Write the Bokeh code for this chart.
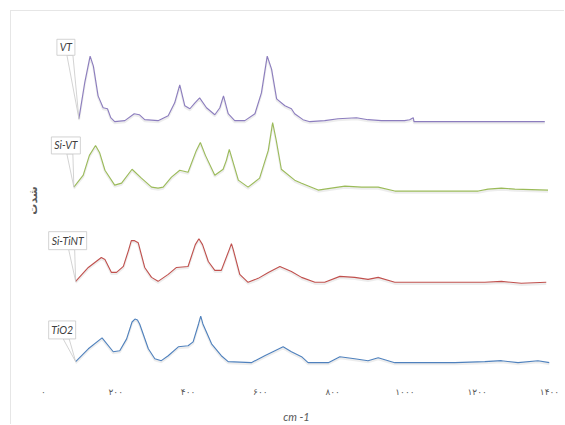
import numpy as np
from bokeh.plotting import figure
from bokeh.models import Range1d, FixedTicker
from bokeh.core.properties import value
from bokeh.embed import file_html
from bokeh.resources import INLINE

# ---- data (arbitrary stacked intensity units) ----
vt_x = [98, 114, 129, 138, 151, 165, 177, 186, 197, 225, 251, 265, 280, 317, 345, 363, 377, 391,
        405, 419, 432, 451, 474, 488, 498, 511, 529, 557, 585, 603, 619, 631, 645, 668, 686, 695,
        718, 737, 778, 815, 866, 898, 935, 999, 1013, 1023, 1025, 1387]
vt_y = [265, 301, 328, 318, 288, 276, 275, 266, 262, 263, 270, 269, 264, 263, 268, 281, 299, 278,
        275, 281, 286, 276, 269, 276, 288, 270, 263, 263, 270, 291, 328, 315, 285, 278, 275, 270,
        264, 262, 263, 265, 266, 264, 263, 263, 264, 266, 262, 262]

sivt_x = [84, 110, 127, 144, 155, 170, 197, 216, 245, 271, 299, 317, 331, 354, 377, 400, 423, 434,
          448, 474, 497, 506, 514, 523, 539, 566, 598, 622, 634, 644, 658, 695, 714, 760, 778, 834,
          880, 926, 972, 1046, 1138, 1203, 1230, 1267, 1304, 1396]
sivt_y = [196, 208, 228, 238, 231, 213, 198, 200, 214, 205, 196, 195, 196, 206, 213, 211, 233, 241,
          228, 208, 214, 223, 234, 223, 203, 196, 205, 233, 261, 243, 214, 203, 200, 193, 194, 197,
          196, 196, 192, 192, 192, 192, 194, 195, 194, 193]

sitint_x = [89, 124, 142, 160, 170, 188, 202, 221, 235, 243, 252, 262, 280, 299, 317, 345, 368, 400,
            420, 430, 440, 456, 474, 492, 514, 520, 525, 543, 566, 594, 622, 654, 686, 714, 751,
            778, 820, 861, 898, 926, 972, 1046, 1138, 1221, 1267, 1322, 1391]
sitint_y = [101, 115, 120, 125, 123, 110, 110, 116, 132, 142, 142, 140, 115, 105, 101, 108, 115, 116,
            138, 144, 138, 121, 112, 112, 133, 139, 133, 108, 100, 104, 110, 116, 111, 105, 100,
            100, 106, 105, 103, 105, 100, 100, 100, 100, 101, 99, 100]

tio2_x = [89, 124, 162, 193, 211, 230, 245, 253, 260, 266, 290, 308, 326, 345, 373, 400, 414, 429,
          435, 441, 465, 492, 511, 575, 612, 663, 686, 714, 732, 788, 820, 861, 898, 926, 972,
          1046, 1138, 1221, 1267, 1313, 1368, 1400]
tio2_y = [20, 33, 44, 30, 31, 43, 60, 63, 62, 58, 33, 23, 21, 26, 35, 36, 40, 58,
          66, 58, 38, 26, 20, 19, 26, 35, 30, 25, 19, 19, 25, 23, 21, 24, 19,
          19, 19, 20, 21, 19, 21, 19]

series_names = ["VT", "Si-VT", "Si-TiNT", "TiO2"]
series_x = [vt_x, sivt_x, sitint_x, tio2_x]
series_y = [vt_y, sivt_y, sitint_y, tio2_y]
series_colors = ["#8C7DBE", "#9BBB59", "#C0504D", "#4F81BD"]

x_ticks = [0, 200, 400, 600, 800, 1000, 1200, 1400]
x_tick_labels = ["۰", "۲۰۰", "۴۰۰", "۶۰۰", "۸۰۰", "۱۰۰۰", "۱۲۰۰", "۱۴۰۰"]
x_title = "cm -1"
y_title = "شدت"

# callout placement (screen pixels relative to first point) and box size
callout_dx = [-13, -8, -8, -13.5]
callout_dy = [72, 42, 41, 32]
callout_w = [18, 29, 38, 27]
callout_h = [16, 17, 18, 18]

# ---- figure ----
W, H = 554, 414
BL, BR, BT, BB = 32, 16, 8, 41
p = figure(width=W, height=H, output_backend="svg", toolbar_location=None,
           x_range=Range1d(0, 1400), y_range=Range1d(0, 365),
           min_border_left=BL, min_border_right=BR, min_border_top=BT, min_border_bottom=BB)
p.styles = {"margin-left": "10px", "margin-top": "10px",
            "border-top": "1px solid #e6e6e6", "border-left": "1px solid #e6e6e6"}
p.grid.visible = False
p.outline_line_color = None
p.background_fill_color = "white"

xa = p.xaxis[0]
xa.ticker = FixedTicker(ticks=x_ticks)
xa.major_label_overrides = {t: l for t, l in zip(x_ticks, x_tick_labels)}
xa.axis_line_color = None
xa.major_tick_line_color = None
xa.minor_tick_line_color = None
xa.major_tick_out = 0
xa.major_tick_in = 0
xa.major_label_standoff = 5
xa.major_label_text_font = "DejaVu Sans"
xa.major_label_text_font_size = "9px"
xa.major_label_text_color = "#595959"
xa.axis_label = x_title
xa.axis_label_text_font = "Lato"
xa.axis_label_text_font_style = "italic"
xa.axis_label_text_font_size = "11px"
xa.axis_label_text_color = "#595959"
xa.axis_label_standoff = 10

ya = p.yaxis[0]
ya.ticker = FixedTicker(ticks=[])
ya.axis_line_color = None
ya.major_tick_line_color = None
ya.minor_tick_line_color = None
ya.major_tick_out = 0
ya.major_tick_in = 0
ya.major_label_standoff = 0
ya.axis_label = y_title
ya.axis_label_text_font = "DejaVu Sans"
ya.axis_label_text_font_style = "bold"
ya.axis_label_text_font_size = "11px"
ya.axis_label_text_color = "#595959"
ya.axis_label_standoff = 4

frame_w = W - BL - BR
xpp = 1400 / frame_w   # data units per screen pixel (x)
ypp = 1.0              # data units per screen pixel (y)

for name, xs, ys, col, dx, dy, bw, bh in zip(series_names, series_x, series_y, series_colors,
                                             callout_dx, callout_dy, callout_w, callout_h):
    xs = np.array(xs, dtype=float)
    ys = np.array(ys, dtype=float)
    p.line(xs, ys - 1.5 * ypp, line_color="#000000", line_alpha=0.07, line_width=2.2)
    p.line(xs, ys, line_color=col, line_width=1.1)

    x0, y0 = xs[0], ys[0]
    bx = x0 + dx * xpp
    by = y0 + dy * ypp
    bottom = by - bh / 2 * ypp
    p.patch([bx + 1 * xpp, bx + 7 * xpp, x0], [bottom, bottom, y0],
            fill_color="white", line_color="#c8c8c8", line_width=0.8)
    p.rect([bx], [by], width=bw, height=bh, width_units="screen", height_units="screen",
           fill_color="white", line_color="#c8c8c8", line_width=0.8)
    p.text([bx], [by], text=[name], text_align="center", text_baseline="middle",
           text_font=value("Lato"), text_font_style="italic", text_font_size="10.5px",
           text_color="#404040")

open("out.html", "w").write(file_html(p, INLINE))
